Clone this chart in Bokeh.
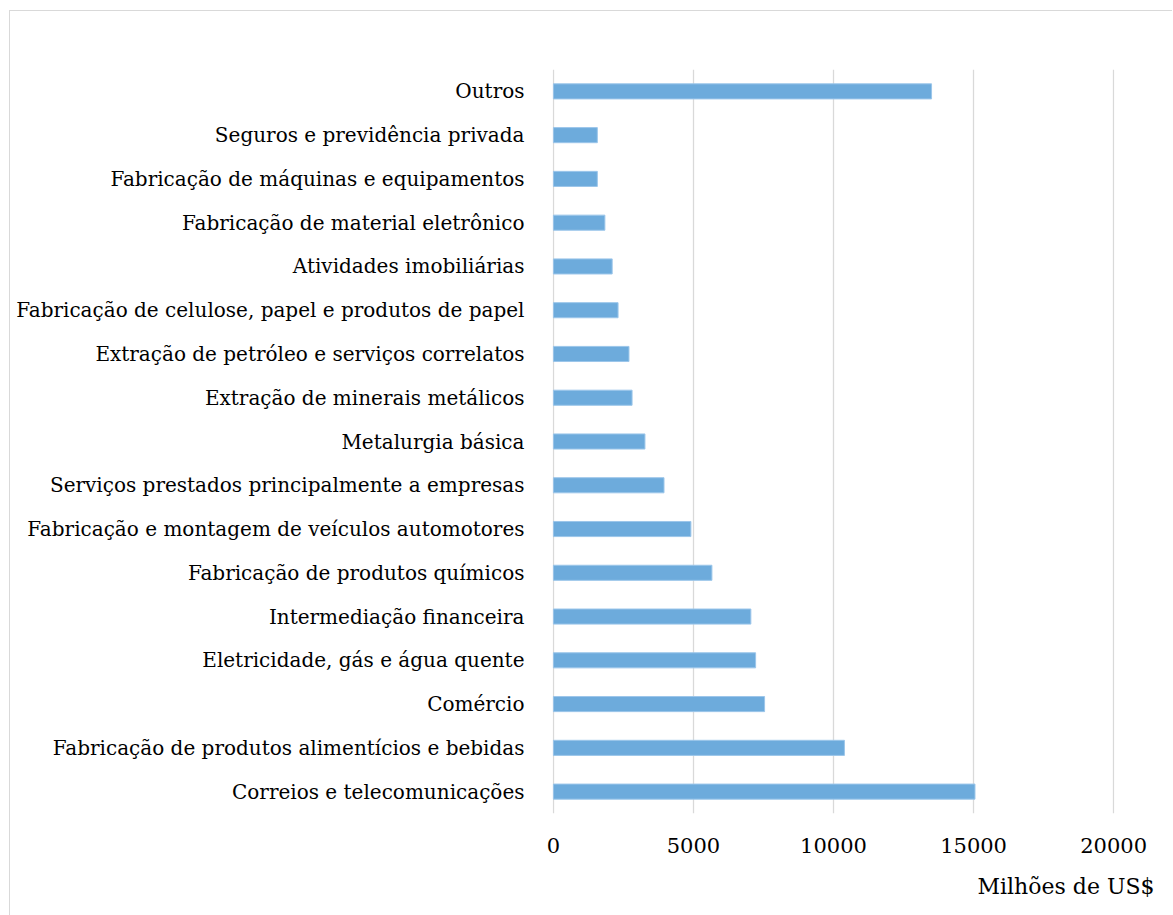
from bokeh.plotting import figure
from bokeh.models import FixedTicker, Title, NumeralTickFormatter
from bokeh.embed import file_html
from bokeh.resources import INLINE

categories = [
    "Correios e telecomunicações",
    "Fabricação de produtos alimentícios e bebidas",
    "Comércio",
    "Eletricidade, gás e água quente",
    "Intermediação financeira",
    "Fabricação de produtos químicos",
    "Fabricação e montagem de veículos automotores",
    "Serviços prestados principalmente a empresas",
    "Metalurgia básica",
    "Extração de minerais metálicos",
    "Extração de petróleo e serviços correlatos",
    "Fabricação de celulose, papel e produtos de papel",
    "Atividades imobiliárias",
    "Fabricação de material eletrônico",
    "Fabricação de máquinas e equipamentos",
    "Seguros e previdência privada",
    "Outros",
]
values = [15050, 10390, 7540, 7220, 7050, 5660, 4910, 3950, 3270, 2810, 2700, 2310, 2100, 1840, 1570, 1570, 13500]
x_ticks = [0, 5000, 10000, 15000, 20000]
x_label = "Milhões de US$"

FONT = "DejaVu Serif"

p = figure(
    width=1163, height=905,
    y_range=categories, x_range=(-30, 20030),
    output_backend="svg", toolbar_location=None,
    min_border_left=542, min_border_right=59, min_border_top=58, min_border_bottom=103,
)
p.margin = (10, 0, 0, 9)
p.styles = {"border-left": "1px solid #d9d9d9", "border-top": "1px solid #d9d9d9"}
p.outline_line_color = None

p.hbar(y=categories, right=values, left=0, height=0.345,
       fill_color="#6dabdc", line_color="#9cc6ea", line_width=1)

p.xaxis.ticker = FixedTicker(ticks=x_ticks)
p.xaxis.formatter = NumeralTickFormatter(format="0")
p.xaxis.axis_line_color = None
p.xaxis.major_tick_line_color = None
p.xaxis.minor_tick_line_color = None
p.xaxis.major_label_standoff = 18
p.xaxis.major_label_text_font = FONT
p.xaxis.major_label_text_font_size = "21px"
p.xaxis.major_label_text_color = "#000000"

p.yaxis.axis_line_color = None
p.yaxis.major_tick_line_color = None
p.yaxis.minor_tick_line_color = None
p.yaxis.major_label_standoff = 22
p.yaxis.major_label_text_font = FONT
p.yaxis.major_label_text_font_size = "20px"
p.yaxis.major_label_text_color = "#000000"

p.xgrid.grid_line_color = "#d9d9d9"
p.xgrid.grid_line_width = 1.3
p.ygrid.grid_line_color = None

t = Title(text=x_label, align="right", offset=-40, standoff=32,
          text_font=FONT, text_font_size="22px", text_font_style="normal",
          text_color="#000000")
p.add_layout(t, "below")

open("out.html", "w").write(file_html(p, INLINE))
